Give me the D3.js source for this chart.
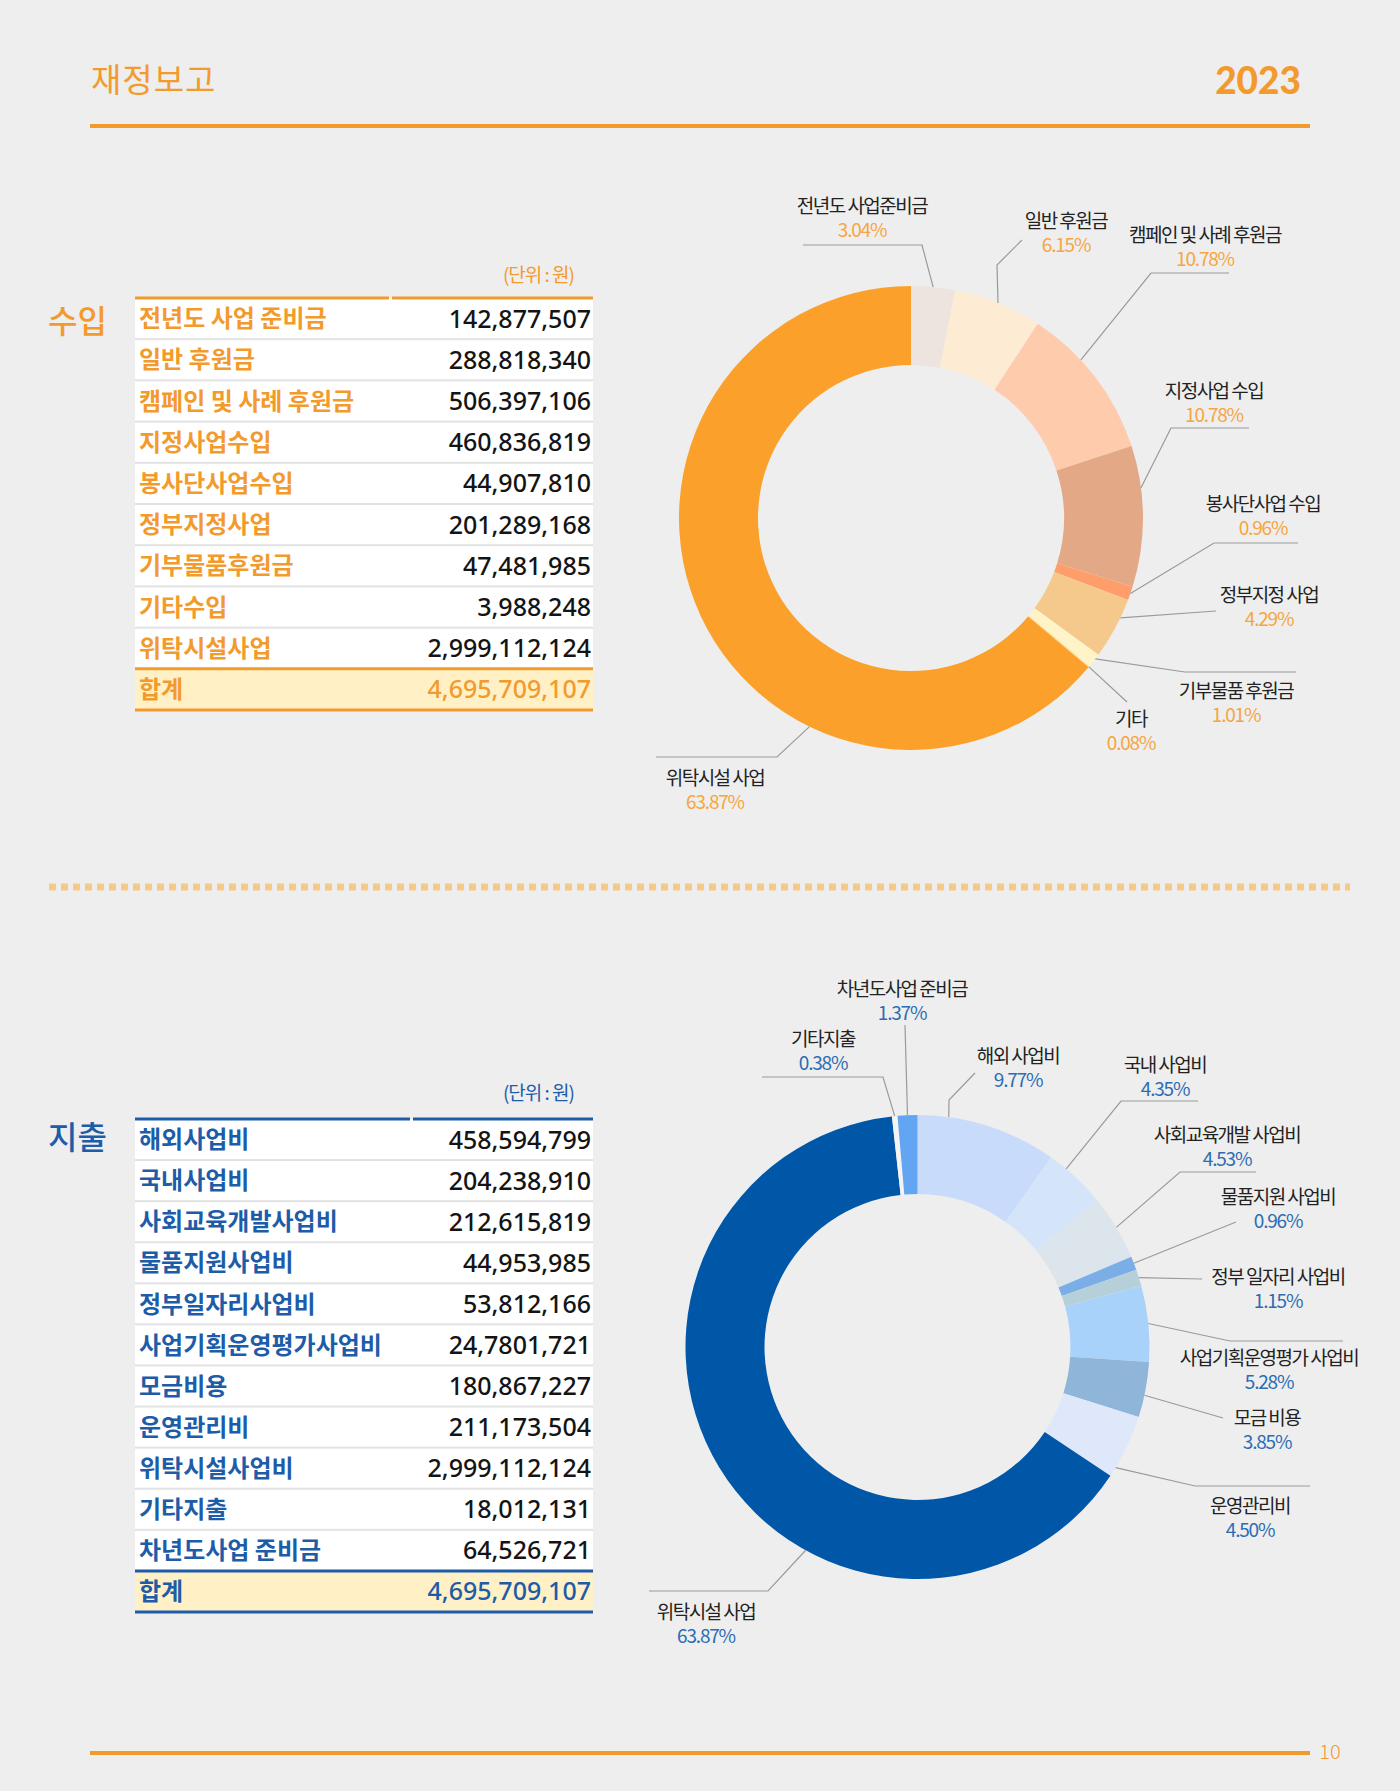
<!DOCTYPE html>
<html>
<head>
<meta charset="utf-8">
<script src="https://cdn.jsdelivr.net/npm/d3@7"></script>
<style>
html,body{margin:0;padding:0;background:#eeeeee;}
svg{display:block;}
</style>
</head>
<body>
<svg id="page"></svg>
<script>
// ---- data ----
var incomeLabels = ["전년도 사업 준비금", "일반 후원금", "캠페인 및 사례 후원금", "지정사업수입", "봉사단사업수입", "정부지정사업", "기부물품후원금", "기타수입", "위탁시설사업"];
var incomeValues = [142877507, 288818340, 506397106, 460836819, 44907810, 201289168, 47481985, 3988248, 2999112124];
var incomeChartNames = ["전년도 사업준비금", "일반 후원금", "캠페인 및 사례 후원금", "지정사업 수입", "봉사단사업 수입", "정부지정 사업", "기부물품 후원금", "기타", "위탁시설 사업"];
var incomePctText = ["3.04%", "6.15%", "10.78%", "10.78%", "0.96%", "4.29%", "1.01%", "0.08%", "63.87%"];

var expenseLabels = ["해외사업비", "국내사업비", "사회교육개발사업비", "물품지원사업비", "정부일자리사업비", "사업기획운영평가사업비", "모금비용", "운영관리비", "위탁시설사업비", "기타지출", "차년도사업 준비금"];
var expenseValues = [458594799, 204238910, 212615819, 44953985, 53812166, 247801721, 180867227, 211173504, 2999112124, 18012131, 64526721];
var expensePrinted = {5: "24,7801,721"};   // as printed in the report
var expenseChartNames = ["해외 사업비", "국내 사업비", "사회교육개발 사업비", "물품지원 사업비", "정부 일자리 사업비", "사업기획운영평가 사업비", "모금 비용", "운영관리비", "위탁시설 사업", "기타지출", "차년도사업 준비금"];
var expensePctText = ["9.77%", "4.35%", "4.53%", "0.96%", "1.15%", "5.28%", "3.85%", "4.50%", "63.87%", "0.38%", "1.37%"];

var totalLabel = "합계";
var unitText = "(단위 : 원)";

// ---- colours ----
var ORANGE = "#F39A2D", ORANGE_PCT = "#F7A540";
var BLUE = "#1D5CA8", BLUE_PCT = "#2B6CB4";
var incomeColors = ["#EEE4DF", "#FDEBD3", "#FECBAC", "#E3A886", "#FF9E6B", "#F5C98C", "#FFF3C8", "#FFD98A", "#FBA02B"];
var expenseColors = ["#C8DBFB", "#D4E5F9", "#DCE4EC", "#7BAEE6", "#B6D0DA", "#A9D2FB", "#8FB5D9", "#DFE8FB", "#0057A8", "#F4F4F4", "#62A5F2"];

// ---- label layout (text centre, leader bends, where on the slice the leader starts) ----
var incomeLabelPos = [
  {x: 862,  y: 206, frac: 0.5,  pts: [[922, 245], [803, 245]]},
  {x: 1066, y: 221, frac: 0.5,  pts: [[997, 265], [1022, 240]]},
  {x: 1205, y: 235, frac: 0.36, pts: [[1151, 273], [1229, 273]]},
  {x: 1214, y: 391, frac: 0.30, pts: [[1171, 428], [1249, 428]]},
  {x: 1263, y: 504, frac: 0.5,  pts: [[1214, 543], [1298, 543]]},
  {x: 1269, y: 595, frac: 0.31, pts: [[1216, 611]]},
  {x: 1236, y: 691, frac: 0.35, pts: [[1185, 672], [1296, 672]]},
  {x: 1131, y: 719, frac: 0.5,  pts: [[1127, 702]]},
  {x: 715,  y: 778, frac: 0.33, pts: [[777, 757], [656, 757]]}
];
var expenseLabelPos = [
  {x: 1018, y: 1056, frac: 0.22, pts: [[949, 1100], [975, 1073]]},
  {x: 1165, y: 1065, frac: 0.3,  pts: [[1121, 1101], [1198, 1101]]},
  {x: 1227, y: 1135, frac: 0.5,  pts: [[1180, 1172], [1256, 1172]]},
  {x: 1278, y: 1197, frac: 0.5,  pts: [[1236, 1222]]},
  {x: 1278, y: 1277, frac: 0.5,  pts: [[1202, 1279]]},
  {x: 1269, y: 1358, frac: 0.5,  pts: [[1230, 1341], [1343, 1341]]},
  {x: 1267, y: 1418, frac: 0.6,  pts: [[1223, 1418]]},
  {x: 1250, y: 1506, frac: 0.85, pts: [[1195, 1486], [1310, 1486]]},
  {x: 706,  y: 1612, frac: 0.37, pts: [[768, 1591], [649, 1591]]},
  {x: 823,  y: 1039, frac: 0.5,  pts: [[883, 1077], [762, 1077]]},
  {x: 902,  y: 989,  frac: 0.5,  pts: [[905, 1025]]}
];

var W = 1400, H = 1791;
var KR = "'Noto Sans CJK KR', 'Noto Sans', sans-serif";
var fmt = d3.format(",");

var svg = d3.select("#page").attr("width", W).attr("height", H);
svg.append("rect").attr("width", W).attr("height", H).attr("fill", "#eeeeee");

// ---- header / footer ----
svg.append("text").attr("x", 91).attr("y", 80).attr("dy", "0.36em")
  .style("font-family", KR).style("font-weight", 400).style("font-size", "33px").style("letter-spacing", "1px")
  .attr("fill", ORANGE).text("재정보고");
svg.append("text").attr("x", 1301).attr("y", 81).attr("dy", "0.36em").attr("text-anchor", "end")
  .style("font-family", "Lato, 'Noto Sans', sans-serif").style("font-weight", 900).style("font-size", "37px")
  .attr("fill", ORANGE).text("2023");
svg.append("line").attr("x1", 90).attr("x2", 1310).attr("y1", 126).attr("y2", 126)
  .attr("stroke", ORANGE).attr("stroke-width", 4);
svg.append("line").attr("x1", 90).attr("x2", 1310).attr("y1", 1753).attr("y2", 1753)
  .attr("stroke", ORANGE).attr("stroke-width", 4);
svg.append("text").attr("x", 1330).attr("y", 1752).attr("dy", "0.36em").attr("text-anchor", "middle")
  .style("font-family", KR).style("font-weight", 300).style("font-size", "20px")
  .attr("fill", ORANGE).text("10");
svg.append("line").attr("x1", 49).attr("x2", 1350).attr("y1", 887).attr("y2", 887)
  .attr("stroke", "#F5C98A").attr("stroke-width", 7).attr("stroke-dasharray", "7 5");

// ---- tables ----
function drawTable(cfg) {
  var n = cfg.labels.length;
  var rows = cfg.labels.map(function(l, i) {
    return {label: l, text: cfg.printed && cfg.printed[i] ? cfg.printed[i] : fmt(cfg.values[i]), total: false};
  });
  rows.push({label: totalLabel, text: fmt(d3.sum(cfg.values)), total: true});

  var y = d3.scaleBand().domain(d3.range(n + 1)).range([cfg.top, cfg.top + (n + 1) * cfg.rowH]);
  var g = svg.append("g");

  g.append("rect").attr("x", cfg.x0).attr("y", cfg.top).attr("width", cfg.x1 - cfg.x0)
    .attr("height", n * cfg.rowH).attr("fill", "#e2e2e2");
  g.selectAll("rect.row").data(rows).enter().append("rect")
    .attr("class", "row")
    .attr("x", cfg.x0)
    .attr("y", function(d, i) { return d.total ? y(i) : y(i) + (i === 0 ? 0 : 1); })
    .attr("width", cfg.x1 - cfg.x0)
    .attr("height", function(d, i) { return d.total ? y.bandwidth() : y.bandwidth() - (i === 0 ? 1 : 2); })
    .attr("fill", function(d) { return d.total ? "#FFF0C6" : "#ffffff"; });

  // rules
  g.append("line").attr("x1", cfg.x0).attr("x2", cfg.split).attr("y1", cfg.top).attr("y2", cfg.top)
    .attr("stroke", cfg.color).attr("stroke-width", 3);
  g.append("line").attr("x1", cfg.split + 3).attr("x2", cfg.x1).attr("y1", cfg.top).attr("y2", cfg.top)
    .attr("stroke", cfg.color).attr("stroke-width", 3);
  [y(n), y(n) + y.bandwidth()].forEach(function(yy) {
    g.append("line").attr("x1", cfg.x0).attr("x2", cfg.x1).attr("y1", yy).attr("y2", yy)
      .attr("stroke", cfg.color).attr("stroke-width", 3);
  });

  g.selectAll("text.lab").data(rows).enter().append("text")
    .attr("class", "lab")
    .attr("x", cfg.x0 + 4)
    .attr("y", function(d, i) { return y(i) + y.bandwidth() / 2; })
    .attr("dy", "0.36em")
    .style("font-family", KR).style("font-weight", 700).style("font-size", "24px")
    .attr("fill", cfg.color)
    .text(function(d) { return d.label; });
  g.selectAll("text.val").data(rows).enter().append("text")
    .attr("class", "val")
    .attr("x", cfg.x1 - 2)
    .attr("y", function(d, i) { return y(i) + y.bandwidth() / 2; })
    .attr("dy", "0.36em")
    .attr("text-anchor", "end")
    .style("font-family", "'Noto Sans', sans-serif").style("font-weight", 500).style("font-size", "25px")
    .attr("fill", function(d) { return d.total ? cfg.color : "#141414"; })
    .text(function(d) { return d.text; });

  g.append("text").attr("x", cfg.unitX).attr("y", cfg.unitY).attr("dy", "0.36em").attr("text-anchor", "end")
    .style("font-family", KR).style("font-weight", 400).style("font-size", "19px").style("letter-spacing", "-1px")
    .attr("fill", cfg.color).text(unitText);
  g.append("text").attr("x", 48).attr("y", cfg.titleY).attr("dy", "0.36em")
    .style("font-family", KR).style("font-weight", 500).style("font-size", "32px")
    .attr("fill", cfg.color).text(cfg.title);
}

drawTable({labels: incomeLabels, values: incomeValues, color: ORANGE, title: "수입",
  x0: 135, x1: 593, split: 389, top: 298, rowH: 41.2, unitX: 574, unitY: 275, titleY: 321});
drawTable({labels: expenseLabels, values: expenseValues, printed: expensePrinted, color: BLUE, title: "지출",
  x0: 135, x1: 593, split: 410, top: 1119, rowH: 41.08, unitX: 574, unitY: 1093, titleY: 1137});

// ---- donuts ----
function drawDonut(cfg) {
  var pie = d3.pie().sort(null).value(function(d) { return d; });
  var arcs = pie(cfg.values);
  var arc = d3.arc().innerRadius(cfg.r0).outerRadius(cfg.r1);
  var g = svg.append("g").attr("transform", "translate(" + cfg.cx + "," + cfg.cy + ")");
  g.selectAll("path").data(arcs).enter().append("path")
    .attr("d", arc)
    .attr("fill", function(d, i) { return cfg.colors[i]; });

  var line = d3.line();
  arcs.forEach(function(a, i) {
    var pos = cfg.layout[i];
    var ang = a.startAngle + (a.endAngle - a.startAngle) * pos.frac;
    var start = [cfg.cx + cfg.r1 * Math.sin(ang), cfg.cy - cfg.r1 * Math.cos(ang)];
    svg.append("path").attr("d", line([start].concat(pos.pts)))
      .attr("fill", "none").attr("stroke", "#9a9a9a").attr("stroke-width", 1.2);
    svg.append("text").attr("x", pos.x).attr("y", pos.y).attr("dy", "0.36em").attr("text-anchor", "middle")
      .style("font-family", KR).style("font-weight", 400).style("font-size", "19px").style("letter-spacing", "-1.5px")
      .attr("fill", "#222222").text(cfg.names[i]);
    svg.append("text").attr("x", pos.x).attr("y", pos.y + 24).attr("dy", "0.36em").attr("text-anchor", "middle")
      .style("font-family", KR).style("font-weight", 400).style("font-size", "19px").style("letter-spacing", "-1.2px")
      .attr("fill", cfg.pctColor).text(cfg.pct[i]);
  });
}

drawDonut({values: incomeValues, colors: incomeColors, names: incomeChartNames, pct: incomePctText,
  layout: incomeLabelPos, pctColor: ORANGE_PCT, cx: 911, cy: 518, r0: 153, r1: 232});
drawDonut({values: expenseValues, colors: expenseColors, names: expenseChartNames, pct: expensePctText,
  layout: expenseLabelPos, pctColor: BLUE_PCT, cx: 917.5, cy: 1347, r0: 153, r1: 232});
</script>
</body>
</html>
